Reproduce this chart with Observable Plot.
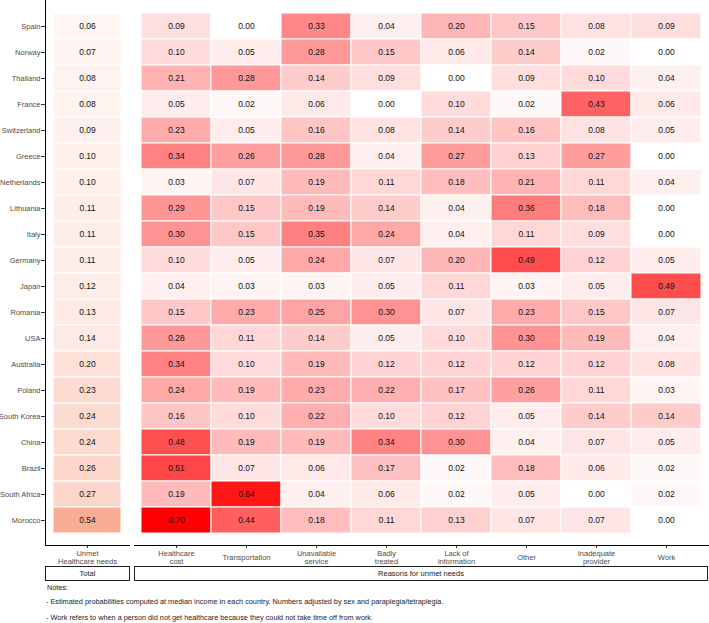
<!DOCTYPE html>
<html><head><meta charset="utf-8">
<script src="https://cdn.jsdelivr.net/npm/d3@7"></script>
<script src="https://cdn.jsdelivr.net/npm/@observablehq/plot@0.6"></script>
<style>
body{margin:0;background:#fff;font-family:"Liberation Sans",Arial,sans-serif;}
#wrap{position:relative;width:709px;height:623px;overflow:hidden;background:#fff}
.panel{position:absolute;top:0}
.strip{position:absolute;box-sizing:border-box;border:1px solid #222;font-size:7.5px;color:#1a1a1a;text-align:center;line-height:13px;height:15px;top:566px}
.note{position:absolute;left:46px;font-size:7.3px;color:#222;white-space:nowrap;line-height:10px}
</style></head>
<body>
<div id="wrap">
  <div id="left" class="panel" style="left:0"></div>
  <div id="right" class="panel" style="left:134px"></div>
  <div class="strip" style="left:45px;width:85px">Total</div>
  <div class="strip" style="left:134px;width:574px">Reasons for unmet needs</div>
  <div class="note" style="top:583px;left:47px">Notes:</div>
  <div class="note" style="top:597px">- Estimated probabilities computed at median income in each country. Numbers adjusted by sex and paraplegia/tetraplegia.</div>
  <div class="note" style="top:613px">- Work refers to when a person did not get healthcare because they could not take time off from work.</div>
</div>
<script>
const countries = ["Spain","Norway","Thailand","France","Switzerland","Greece","Netherlands","Lithuania","Italy","Germany","Japan","Romania","USA","Australia","Poland","South Korea","China","Brazil","South Africa","Morocco"];
const totalLabel = "Unmet\nHealthcare needs";
const reasons = ["Healthcare\ncost","Transportation","Unavailable\nservice","Badly\ntreated","Lack of\ninformation","Other","Inadequate\nprovider","Work"];
const total          = [0.06,0.07,0.08,0.08,0.09,0.10,0.10,0.11,0.11,0.11,0.12,0.13,0.14,0.20,0.23,0.24,0.24,0.26,0.27,0.54];
const healthcareCost = [0.09,0.10,0.21,0.05,0.23,0.34,0.03,0.29,0.30,0.10,0.04,0.15,0.28,0.34,0.24,0.16,0.48,0.51,0.19,0.70];
const transportation = [0.00,0.05,0.28,0.02,0.05,0.26,0.07,0.15,0.15,0.05,0.03,0.23,0.11,0.10,0.19,0.10,0.19,0.07,0.64,0.44];
const unavailable    = [0.33,0.28,0.14,0.06,0.16,0.28,0.19,0.19,0.35,0.24,0.03,0.25,0.14,0.19,0.23,0.22,0.19,0.06,0.04,0.18];
const badlyTreated   = [0.04,0.15,0.09,0.00,0.08,0.04,0.11,0.14,0.24,0.07,0.05,0.30,0.05,0.12,0.22,0.10,0.34,0.17,0.06,0.11];
const lackInfo       = [0.20,0.06,0.00,0.10,0.14,0.27,0.18,0.04,0.04,0.20,0.11,0.07,0.10,0.12,0.17,0.12,0.30,0.02,0.02,0.13];
const other          = [0.15,0.14,0.09,0.02,0.16,0.13,0.21,0.36,0.11,0.49,0.03,0.23,0.30,0.12,0.26,0.05,0.04,0.18,0.05,0.07];
const inadequate     = [0.08,0.02,0.10,0.43,0.08,0.27,0.11,0.18,0.09,0.12,0.05,0.15,0.19,0.12,0.11,0.14,0.07,0.06,0.00,0.07];
const work           = [0.09,0.00,0.04,0.06,0.05,0.00,0.04,0.00,0.00,0.05,0.49,0.07,0.04,0.08,0.03,0.14,0.05,0.02,0.02,0.00];

const reasonSeries = [healthcareCost, transportation, unavailable, badlyTreated, lackInfo, other, inadequate, work];

const leftData = countries.map((c, i) => ({country: c, reason: totalLabel, value: total[i]}));
const rightData = [];
reasons.forEach((r, j) => countries.forEach((c, i) => rightData.push({country: c, reason: r, value: reasonSeries[j][i]})));

const yScale = {domain: countries, paddingInner: 0, paddingOuter: 0.149};
const font = {fontFamily: "'Liberation Sans', Arial, sans-serif", fontSize: "7.5px", color: "#4d4d4d", background: "#fff", overflow: "visible"};

const left = Plot.plot({
  width: 131, height: 567,
  marginTop: 0, marginBottom: 22, marginLeft: 45, marginRight: 2,
  style: font,
  x: {domain: [totalLabel], paddingInner: 0, paddingOuter: 0.1176},
  y: yScale,
  color: {type: "linear", domain: [0, 0.54], range: ["#ffffff", "#f9ad95"], interpolate: "rgb"},
  marks: [
    Plot.cell(leftData, {x: "reason", y: "country", fill: "value", stroke: "white", strokeWidth: 1}),
    Plot.text(leftData, {x: "reason", y: "country", text: d => d.value.toFixed(2), fill: "#111", fontSize: 8.5}),
    Plot.axisY({tickSize: 4, tickPadding: 1, label: null, stroke: "#333", fill: "#4d4d4d"}),
    Plot.axisX({tickSize: 3, tickFormat: () => "", label: null, stroke: "#333"}),
    Plot.text([totalLabel], {x: d => d, text: d => d, frameAnchor: "bottom", dy: 12, lineAnchor: "middle", lineHeight: 1, fontSize: 7.5, fill: "#4d4d4d"}),
    Plot.frame({anchor: "left", stroke: "#000"}),
    Plot.frame({anchor: "bottom", stroke: "#000"})
  ]
});
document.getElementById("left").append(left);

const right = Plot.plot({
  width: 575, height: 567,
  marginTop: 0, marginBottom: 22, marginLeft: 0, marginRight: 1,
  style: font,
  x: {domain: reasons, paddingInner: 0, paddingOuter: 0.1},
  y: {...yScale, axis: null},
  color: {type: "linear", domain: [0, 0.70], range: ["#ffffff", "#ff0000"], interpolate: "rgb"},
  marks: [
    Plot.cell(rightData, {x: "reason", y: "country", fill: "value", stroke: "white", strokeWidth: 1}),
    Plot.text(rightData, {x: "reason", y: "country", text: d => d.value.toFixed(2), fill: "#111", fontSize: 8.5}),
    Plot.axisX({tickSize: 3, tickFormat: () => "", label: null, stroke: "#333"}),
    Plot.text(reasons, {x: d => d, text: d => d, frameAnchor: "bottom", dy: 12, lineAnchor: "middle", lineHeight: 1, fontSize: 7.5, fill: "#4d4d4d"}),
    Plot.frame({anchor: "bottom", stroke: "#000"})
  ]
});
document.getElementById("right").append(right);
</script>
</body></html>
